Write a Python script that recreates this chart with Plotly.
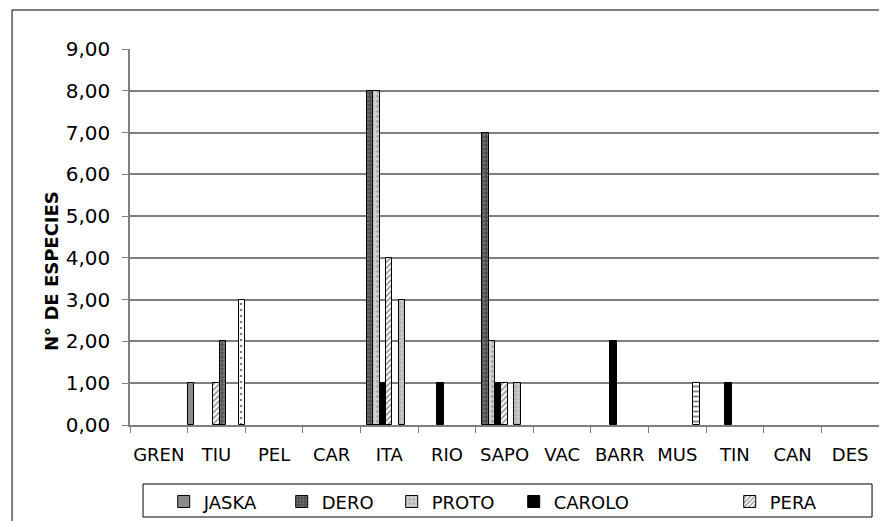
import plotly.graph_objects as go

categories = ["GREN", "TIU", "PEL", "CAR", "ITA", "RIO", "SAPO", "VAC", "BARR", "MUS", "TIN", "CAN", "DES"]

# empty cells are None so nothing is drawn there
jaska = [None, 1, None, None, None, None, None, None, None, None, None, None, None]
dero = [None, None, None, None, 8, None, 7, None, None, None, None, None, None]
proto = [None, None, None, None, 8, None, 2, None, None, None, None, None, None]
carolo = [None, None, None, None, 1, 1, 1, None, 2, None, 1, None, None]
pera = [None, 1, None, None, 4, None, 1, None, None, None, None, None, None]
serie6 = [None, 2, None, None, None, None, None, None, None, None, None, None, None]
serie7 = [None, None, None, None, 3, None, 1, None, None, None, None, None, None]
serie8 = [None, None, None, None, None, None, None, None, None, 1, None, None, None]
serie9 = [None, 3, None, None, None, None, None, None, None, None, None, None, None]

series = [
    ("JASKA", jaska, dict(color="#8c8c8c", pattern=dict(shape="")), True, 73),
    ("DERO", dero, dict(color="#505050", pattern=dict(shape=".", fgcolor="#9a9a9a", bgcolor="#505050", size=4, solidity=0.3)), True, 65),
    ("PROTO", proto, dict(color="#cfcfcf", pattern=dict(shape=".", fgcolor="#7a7a7a", bgcolor="#cfcfcf", size=5, solidity=0.25)), True, 77),
    ("CAROLO", carolo, dict(color="#000000", pattern=dict(shape="")), True, 171),
    ("PERA", pera, dict(color="#ffffff", pattern=dict(shape="/", fgcolor="#000000", bgcolor="#ffffff", size=4, solidity=0.35)), True, 60),
    ("S6", serie6, dict(color="#5a5a5a", pattern=dict(shape=".", fgcolor="#a0a0a0", bgcolor="#5a5a5a", size=4, solidity=0.3)), False, None),
    ("S7", serie7, dict(color="#c4c4c4", pattern=dict(shape=".", fgcolor="#8a8a8a", bgcolor="#c4c4c4", size=4, solidity=0.2)), False, None),
    ("S8", serie8, dict(color="#ffffff", pattern=dict(shape="-", fgcolor="#000000", bgcolor="#ffffff", size=5, solidity=0.35)), False, None),
    ("S9", serie9, dict(color="#ffffff", pattern=dict(shape=".", fgcolor="#000000", bgcolor="#ffffff", size=6, solidity=0.15)), False, None),
]

fig = go.Figure()
for name, vals, mk, show, lw in series:
    fig.add_trace(go.Bar(
        x=categories, y=vals, name=name, showlegend=show, legendwidth=lw,
        marker=dict(**mk, line=dict(color="#000000", width=1)),
    ))

font = "DejaVu Sans"
# page body has an 8px margin, so the figure is 8px smaller each way
fig.update_layout(
    width=879, height=513,
    margin=dict(l=122, r=8, t=41, b=96, autoexpand=False),
    paper_bgcolor="#ffffff", plot_bgcolor="#ffffff",
    barmode="group", bargap=0, bargroupgap=0,
    separators=",.",
    font=dict(family=font, size=18, color="#000000"),
    legend=dict(
        orientation="h", x=0.045, y=-0.155, xanchor="left", yanchor="top",
        entrywidthmode="pixels",
        font=dict(family=font, size=18, color="#000000"),
        bgcolor="rgba(0,0,0,0)", borderwidth=0,
    ),
    xaxis=dict(
        type="category", tickson="boundaries", ticks="outside", ticklen=6,
        tickcolor="#7f7f7f", showline=True, linecolor="#7f7f7f", linewidth=2,
        showgrid=False, tickangle=0, tickfont=dict(family=font, size=18),
        ticklabelstandoff=12,
    ),
    yaxis=dict(
        range=[0, 9], dtick=1, tickformat=".2f", ticks="outside", ticklen=6,
        tickcolor="#7f7f7f", showline=True, linecolor="#7f7f7f", linewidth=1.5,
        showgrid=True, gridcolor="#7f7f7f", gridwidth=1.5, zeroline=False,
        tickfont=dict(family=font, size=20), ticklabelstandoff=8,
    ),
)

# axis title placed like the original, overlapping the tick labels
fig.add_annotation(
    text="<b>N° DE ESPECIES</b>", xref="paper", yref="paper",
    x=-0.104, y=0.41, xanchor="center", yanchor="middle",
    textangle=-90, showarrow=False, font=dict(family=font, size=18, color="#000000"),
)

# outer chart frame and legend box
fig.add_shape(type="rect", xref="paper", yref="paper",
              x0=-0.1575, x1=1.0093, y0=-0.274, y1=1.1037, line=dict(color="#000000", width=1))
fig.add_shape(type="rect", xref="paper", yref="paper",
              x0=0.0174, x1=0.9907, y0=-0.2447, y1=-0.1569, line=dict(color="#000000", width=1))

fig.write_html("out.html")
